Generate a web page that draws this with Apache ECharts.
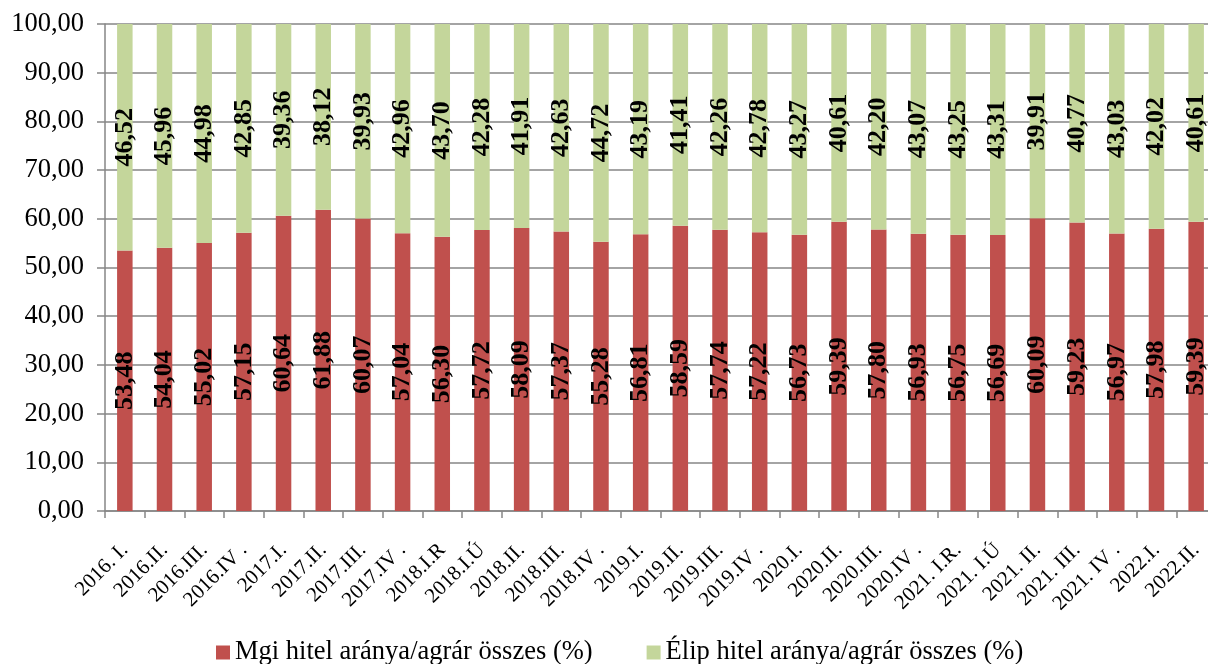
<!DOCTYPE html>
<html><head><meta charset="utf-8">
<script src="https://cdn.jsdelivr.net/npm/echarts@6/dist/echarts.min.js"></script>
<style>html,body{margin:0;padding:0;background:#fff}#c{width:1208px;height:664px}</style>
</head><body><div id="c"></div>
<script>
const categories = ["2016. I.","2016.II.","2016.III.","2016.IV .","2017.I.","2017.II.","2017.III.","2017.IV .","2018.I.R","2018.I.Ú","2018.II.","2018.III.","2018.IV .","2019.I.","2019.II.","2019.III.","2019.IV .","2020.I.","2020.II.","2020.III.","2020.IV .","2021. I.R.","2021. I.Ú","2021. II.","2021. III.","2021. IV .","2022.I.","2022.II."];
const mgiValues = [53.48,54.04,55.02,57.15,60.64,61.88,60.07,57.04,56.30,57.72,58.09,57.37,55.28,56.81,58.59,57.74,57.22,56.73,59.39,57.80,56.93,56.75,56.69,60.09,59.23,56.97,57.98,59.39];
const elipValues = [46.52,45.96,44.98,42.85,39.36,38.12,39.93,42.96,43.70,42.28,41.91,42.63,44.72,43.19,41.41,42.26,42.78,43.27,40.61,42.20,43.07,43.25,43.31,39.91,40.77,43.03,42.02,40.61];
const seriesNames = ["Mgi hitel aránya/agrár összes (%)","Élip hitel aránya/agrár összes (%)"];

const FONT = "Liberation Serif";
const fmt = v => v.toFixed(2).replace('.', ',');
const chart = echarts.init(document.getElementById('c'), null, {renderer:'canvas'});
const lbl = {
  show: true, position: 'inside', rotate: 90,
  fontFamily: FONT, fontWeight: 'bold', fontSize: 26, color: '#000',
  formatter: p => fmt(p.value)
};
chart.setOption({
  animation: false,
  textStyle: {fontFamily: FONT},
  grid: {left: 105, width: 1111, top: 24, bottom: 153, containLabel: false, outerBoundsMode: 'none'},
  legend: {
    top: 634, left: 211, itemWidth: 14, itemHeight: 14, itemGap: 54,
    icon: 'rect',
    textStyle: {fontFamily: FONT, fontSize: 26.5, color: '#000'},
    data: seriesNames
  },
  xAxis: {
    type: 'category', data: categories,
    axisLine: {lineStyle: {color: '#868686', width: 1.5}},
    axisTick: {show: true, length: 7, lineStyle: {color: '#868686', width: 1.5}},
    axisLabel: {rotate: 45, fontFamily: FONT, fontSize: 21, color: '#000', margin: 36, interval: 0}
  },
  yAxis: {
    type: 'value', min: 0, max: 100, interval: 10,
    axisLine: {show: true, lineStyle: {color: '#868686', width: 1.5}},
    axisTick: {show: true, length: 8, lineStyle: {color: '#868686', width: 1.5}},
    splitLine: {lineStyle: {color: '#868686', width: 1.5}},
    axisLabel: {fontFamily: FONT, fontSize: 26.5, color: '#000', margin: 21, formatter: v => fmt(v)}
  },
  series: [
    {name: seriesNames[0], type: 'bar', stack: 's', data: mgiValues, barWidth: 15.5,
     itemStyle: {color: '#C0504D'}, label: lbl},
    {name: seriesNames[1], type: 'bar', stack: 's', data: elipValues, barWidth: 15.5,
     itemStyle: {color: '#C4D69B'}, label: lbl}
  ]
});
</script></body></html>
